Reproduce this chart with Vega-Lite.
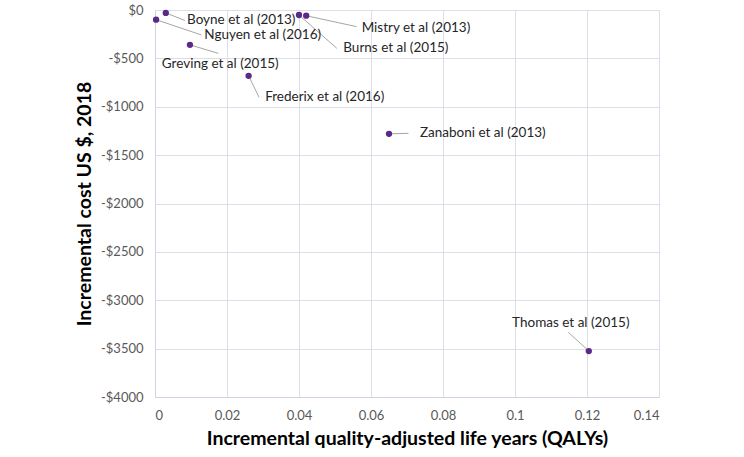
{
  "$schema": "https://vega.github.io/schema/vega-lite/v6.json",
  "width": 504,
  "height": 387,
  "autosize": {"type": "none"},
  "padding": {"left": 155, "top": 10, "right": 85, "bottom": 60},
  "background": "white",
  "config": {
    "view": {"stroke": null},
    "font": "Lato",
    "axis": {
      "labelFont": "Lato",
      "titleFont": "Lato",
      "labelFontSize": 13,
      "labelColor": "#595959",
      "titleFontSize": 19.5,
      "titleFontWeight": "bold",
      "titleColor": "#000000",
      "gridColor": "#dcdfea",
      "domainColor": "#d0d3e0",
      "ticks": false
    }
  },
  "data": {
    "values": [
      {"study": "Boyne et al (2013)", "qaly": 0.003, "cost": -30, "lx": 0.0089, "ly": -103, "ex": 0.0083, "ey": -108},
      {"study": "Nguyen et al (2016)", "qaly": 0.0003, "cost": -100, "lx": 0.0137, "ly": -258, "ex": 0.0129, "ey": -258},
      {"study": "Greving et al (2015)", "qaly": 0.0097, "cost": -360, "lx": 0.0019, "ly": -558, "ex": 0.0176, "ey": -448},
      {"study": "Frederix et al (2016)", "qaly": 0.026, "cost": -680, "lx": 0.0306, "ly": -902, "ex": 0.0289, "ey": -902},
      {"study": "Burns et al (2015)", "qaly": 0.040, "cost": -52, "lx": 0.0523, "ly": -396, "ex": 0.0505, "ey": -396},
      {"study": "Mistry et al (2013)", "qaly": 0.042, "cost": -59, "lx": 0.0574, "ly": -189, "ex": 0.0560, "ey": -172},
      {"study": "Zanaboni et al (2013)", "qaly": 0.065, "cost": -1280, "lx": 0.0736, "ly": -1275, "ex": 0.0704, "ey": -1275},
      {"study": "Thomas et al (2015)", "qaly": 0.1205, "cost": -3525, "lx": 0.0992, "ly": -3235, "ex": 0.1148, "ey": -3331}
    ]
  },
  "layer": [
    {
      "mark": {"type": "rule", "color": "#a6a6a6", "strokeWidth": 1},
      "encoding": {
        "x": {
          "field": "qaly", "type": "quantitative",
          "scale": {"domain": [0, 0.14], "nice": false},
          "axis": {
            "values": [0, 0.02, 0.04, 0.06, 0.08, 0.1, 0.12, 0.14],
            "format": ".2~f",
            "labelPadding": 12,
            "title": "Incremental quality-adjusted life years (QALYs)",
            "titlePadding": 7
          }
        },
        "y": {
          "field": "cost", "type": "quantitative",
          "scale": {"domain": [-4000, 0], "nice": false},
          "axis": {
            "values": [0, -500, -1000, -1500, -2000, -2500, -3000, -3500, -4000],
            "labelExpr": "datum.value == 0 ? '$0' : '-$' + abs(datum.value)",
            "labelPadding": 12,
            "title": "Incremental cost US $, 2018",
            "titlePadding": 6
          }
        },
        "x2": {"field": "ex"},
        "y2": {"field": "ey"}
      }
    },
    {
      "mark": {"type": "circle", "color": "#5b2a86", "opacity": 1, "size": 40},
      "encoding": {
        "x": {"field": "qaly", "type": "quantitative"},
        "y": {"field": "cost", "type": "quantitative"}
      }
    },
    {
      "mark": {"type": "text", "align": "left", "baseline": "middle", "fontSize": 13.5, "color": "#262626", "font": "Lato"},
      "encoding": {
        "x": {"field": "lx", "type": "quantitative"},
        "y": {"field": "ly", "type": "quantitative"},
        "text": {"field": "study"}
      }
    }
  ]
}
